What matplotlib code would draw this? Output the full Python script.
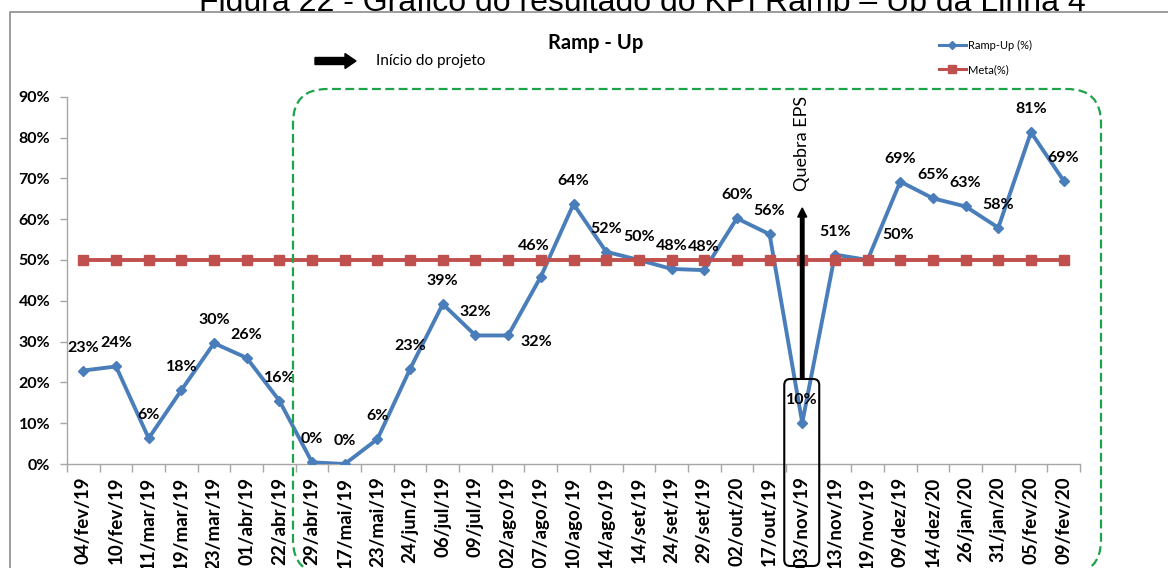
import matplotlib
matplotlib.use("Agg")
import numpy as np
import matplotlib.pyplot as plt
from matplotlib.patches import FancyBboxPatch, FancyArrow, Rectangle
from matplotlib.transforms import IdentityTransform
from matplotlib.lines import Line2D

# --- data -------------------------------------------------------------
dates = ["04/fev/19", "10/fev/19", "11/mar/19", "19/mar/19", "23/mar/19",
         "01/abr/19", "22/abr/19", "29/abr/19", "17/mai/19", "23/mai/19",
         "24/jun/19", "06/jul/19", "09/jul/19", "02/ago/19", "07/ago/19",
         "10/ago/19", "14/ago/19", "14/set/19", "24/set/19", "29/set/19",
         "02/out/20", "17/out/19", "03/nov/19", "13/nov/19", "19/nov/19",
         "09/dez/19", "14/dez/20", "26/jan/20", "31/jan/20", "05/fev/20",
         "09/fev/20"]
ramp_up = [22.9, 23.9, 6.3, 18.1, 29.6, 26.0, 15.5, 0.4, 0.0, 6.1,
           23.3, 39.2, 31.5, 31.5, 45.9, 63.7, 52.0, 50.0, 47.8, 47.5,
           60.2, 56.3, 10.1, 51.3, 50.0, 69.2, 65.1, 63.1, 57.9, 81.3,
           69.4]
meta = [50, 50, 50, 50, 50, 50, 50, 50, 50, 50, 50, 50, 50, 50, 50, 50,
        50, 50, 50, 50, 50, 50, 50, 50, 50, 50, 50, 50, 50, 50, 50]
y_ticks = [0, 10, 20, 30, 40, 50, 60, 70, 80, 90]

BLUE = "#4A7EBB"
RED = "#C0504D"
GREEN = "#1FA34A"
GRAY = "#A6A6A6"
FONT = "Lato"

W, H = 1168, 568
fig = plt.figure(figsize=(W / 100, H / 100), dpi=100)
pix = IdentityTransform()


def py(y_top):
    """convert a top-based pixel row into display coordinates"""
    return H - y_top


# page caption above the chart frame
fig.text(642 / W, py(11) / H,
         "Figura 22 - Gráfico do resultado do KPI Ramp – Up da Linha 4",
         family="Liberation Sans", fontsize=23, ha="center",
         va="baseline", zorder=0)

# chart frame
frame = Rectangle((10, -20), W + 20, py(12) + 20, transform=pix,
                  facecolor="white", edgecolor="#8C8C8C", linewidth=1.2,
                  zorder=1)
fig.add_artist(frame)

ax = fig.add_axes([67 / W, 1 - 464 / H, (1080 - 67) / W, (464 - 96.7) / H])
ax.set_zorder(2)
ax.patch.set_alpha(0)

x = np.arange(len(dates))
ax.plot(x, ramp_up, color=BLUE, linewidth=2.8, marker="D", markersize=5,
        markerfacecolor=BLUE, markeredgecolor=BLUE, zorder=3,
        label="Ramp-Up (%)")
ax.plot(x, meta, color=RED, linewidth=2.8, marker="s", markersize=7.5,
        markerfacecolor=RED, markeredgecolor=RED, zorder=4,
        label="Meta(%)")

ax.set_xlim(-0.5, len(dates) - 0.5)
ax.set_ylim(0, 90)

# value labels
special = {13: (28, -7), 14: (-7, 31), 24: (31, 25)}
for i, v in enumerate(ramp_up):
    dx, dy = special.get(i, (0, 23))
    ax.annotate(f"{v:.0f}%", (i, v), xytext=(dx, dy),
                textcoords="offset pixels", ha="center", va="center",
                family=FONT, fontweight="bold", fontsize=11.5, zorder=6,
                annotation_clip=False)

ax.set_yticks(y_ticks)
ax.set_yticklabels([f"{t}%" for t in y_ticks], family=FONT,
                   fontweight="bold", fontsize=11.5)
ax.set_xticks(x)
ax.set_xticklabels(dates, rotation=90, family=FONT, fontweight="bold",
                   fontsize=13.5)
ax.set_xticks(np.arange(-0.5, len(dates), 1), minor=True)
ax.tick_params(axis="x", which="major", length=0, pad=9)
ax.tick_params(axis="x", which="minor", length=6, color=GRAY, width=1)
ax.tick_params(axis="y", length=5, color=GRAY, width=1, pad=7)
for side in ("top", "right"):
    ax.spines[side].set_visible(False)
for side in ("left", "bottom"):
    ax.spines[side].set_color(GRAY)
    ax.spines[side].set_linewidth(1)

ax.set_title("Ramp - Up", family=FONT, fontweight="bold", fontsize=14.5,
             x=(596 - 67) / (1080 - 67), y=1.0, pad=(96.7 - 42) * 0.72 - 5)

# legend
handles = [Line2D([], [], color=BLUE, linewidth=2.2, marker="D",
                  markersize=4),
           Line2D([], [], color=RED, linewidth=2.2, marker="s",
                  markersize=6)]
fig.legend(handles, ["Ramp-Up (%)", "Meta(%)"], loc="upper left",
           bbox_to_anchor=(939 / W, py(40) / H), frameon=False,
           prop={"family": FONT, "size": 8}, handlelength=2.4,
           handletextpad=0.2, labelspacing=1.15, borderpad=0,
           borderaxespad=0)

# project start marker
fig.add_artist(FancyArrow(315, py(61), 41, 0, width=7, head_width=15,
                          head_length=11, length_includes_head=True,
                          transform=pix, color="black", zorder=5))
fig.text(376 / W, py(61) / H, "Início do projeto", family=FONT,
         fontsize=11, ha="left", va="center", zorder=5)

# dashed project window
fig.add_artist(FancyBboxPatch((293, py(574)), 1101 - 293, 574 - 89,
                              boxstyle="round,pad=0,rounding_size=34",
                              transform=pix, facecolor="none",
                              edgecolor=GREEN, linewidth=1.6,
                              linestyle=(0, (4, 2)), zorder=5))

# EPS break highlight
fig.canvas.draw()
bx0, _ = ax.transData.transform((21.45, 0))
bx1, _ = ax.transData.transform((22.52, 0))
ax_x, _ = ax.transData.transform((22, 0))
fig.add_artist(FancyBboxPatch((bx0, py(566)), bx1 - bx0, 566 - 379,
                              boxstyle="round,pad=0,rounding_size=6",
                              transform=pix, facecolor="none",
                              edgecolor="black", linewidth=1.5, zorder=5))
fig.add_artist(FancyArrow(ax_x, py(378), 0, 378 - 208, width=3.5,
                          head_width=9, head_length=9,
                          length_includes_head=True, transform=pix,
                          color="black", zorder=5))
ax.text(22, 78.5, "Quebra EPS", rotation=90, family=FONT, fontsize=13,
        ha="center", va="center", zorder=6)

fig.savefig("out.png", dpi=100)
